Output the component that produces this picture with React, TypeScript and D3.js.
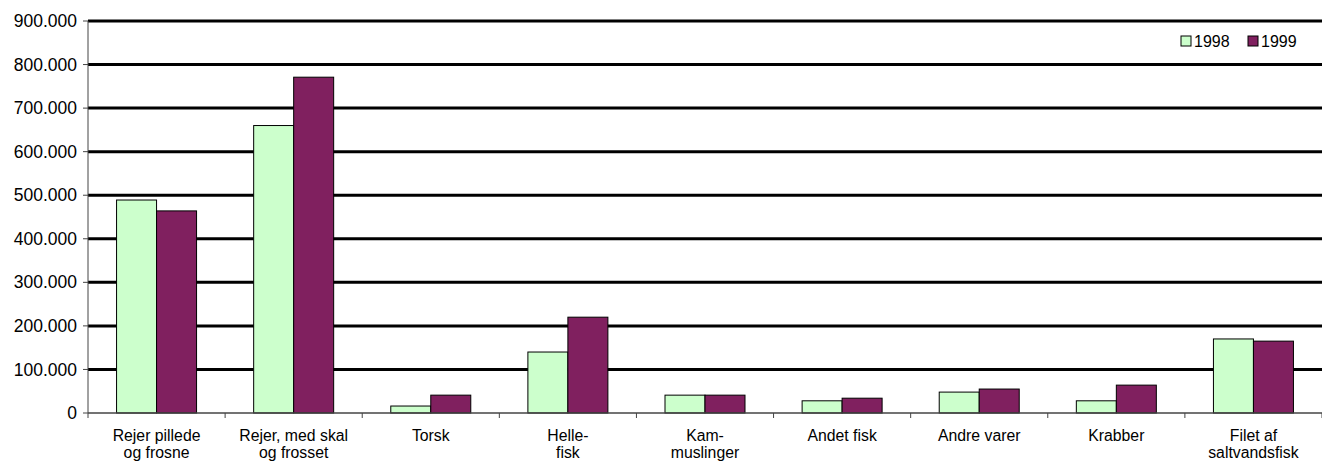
import React from "react";
import * as d3 from "d3";

const categories: string[][] = [
  ["Rejer pillede", "og frosne"],
  ["Rejer, med skal", "og frosset"],
  ["Torsk"],
  ["Helle-", "fisk"],
  ["Kam-", "muslinger"],
  ["Andet fisk"],
  ["Andre varer"],
  ["Krabber"],
  ["Filet af", "saltvandsfisk"],
];
const series = ["1998", "1999"];
const values1998 = [489000, 660000, 16000, 140000, 41000, 28000, 48000, 28000, 170000];
const values1999 = [464000, 771000, 41000, 220000, 41000, 34000, 55000, 64000, 165000];
const yTicks = [0, 100000, 200000, 300000, 400000, 500000, 600000, 700000, 800000, 900000];
const colors = ["#CCFFCC", "#80205F"];

const W = 1322, H = 461;
const left = 88, right = 1322, top = 21, bottom = 413;

const fmt = (v: number) => (v === 0 ? "0" : d3.format(",")(v).replace(/,/g, "."));

export default function App() {
  const x = d3.scaleBand<number>().domain(d3.range(categories.length)).range([left, right]);
  const inner = d3.scaleBand<number>().domain([0, 1]).range([0, 80]);
  const y = d3.scaleLinear().domain([0, 900000]).range([bottom, top]);
  const data = [values1998, values1999];
  const font = "Liberation Sans, Arial, sans-serif";
  return (
    <svg width={W} height={H} style={{ position: "absolute", left: 0, top: 0, background: "#fff" }} fontFamily={font}>
      {yTicks.filter((t) => t > 0).map((t) => (
        <line key={"g" + t} x1={left} x2={right} y1={y(t)} y2={y(t)} stroke="#000" strokeWidth={3} />
      ))}
      {yTicks.map((t) => (
        <g key={"t" + t}>
          <line x1={left - 5} x2={left} y1={y(t)} y2={y(t)} stroke="#444" strokeWidth={1} />
          <text x={left - 11} y={y(t)} dy="0.35em" textAnchor="end" fontSize={17.5} fill="#000">{fmt(t)}</text>
        </g>
      ))}
      {categories.map((c, i) => {
        const x0 = (x(i) as number) + (x.bandwidth() - 80) / 2;
        return (
          <g key={"c" + i}>
            {data.map((vals, s) => (
              <rect key={s} x={x0 + (inner(s) as number)} width={inner.bandwidth()} y={y(vals[i])}
                height={bottom - y(vals[i])} fill={colors[s]} stroke="#000" strokeWidth={1} />
            ))}
            <text x={(x(i) as number) + x.bandwidth() / 2} y={441} textAnchor="middle" fontSize={15.8} fill="#000">
              {c.map((l, k) => (
                <tspan key={k} x={(x(i) as number) + x.bandwidth() / 2} dy={k === 0 ? 0 : 17}>{l}</tspan>
              ))}
            </text>
          </g>
        );
      })}
      {d3.range(categories.length + 1).map((i) => {
        const xx = i < categories.length ? (x(i) as number) : right;
        return <line key={"xt" + i} x1={xx} x2={xx} y1={bottom} y2={bottom + 5} stroke="#444" strokeWidth={1} />;
      })}
      <line x1={left} x2={right} y1={bottom} y2={bottom} stroke="#444" strokeWidth={1.5} />
      <line x1={left} x2={left} y1={top} y2={bottom} stroke="#444" strokeWidth={1} />
      <g transform="translate(1194,41)">
        {series.map((s, i) => (
          <g key={s} transform={`translate(${i * 67},0)`}>
            <rect x={-13} y={-5} width={10} height={10} fill={colors[i]} stroke="#000" strokeWidth={1} />
            <text x={0} y={0} dy="0.35em" fontSize={16}>{s}</text>
          </g>
        ))}
      </g>
    </svg>
  );
}
